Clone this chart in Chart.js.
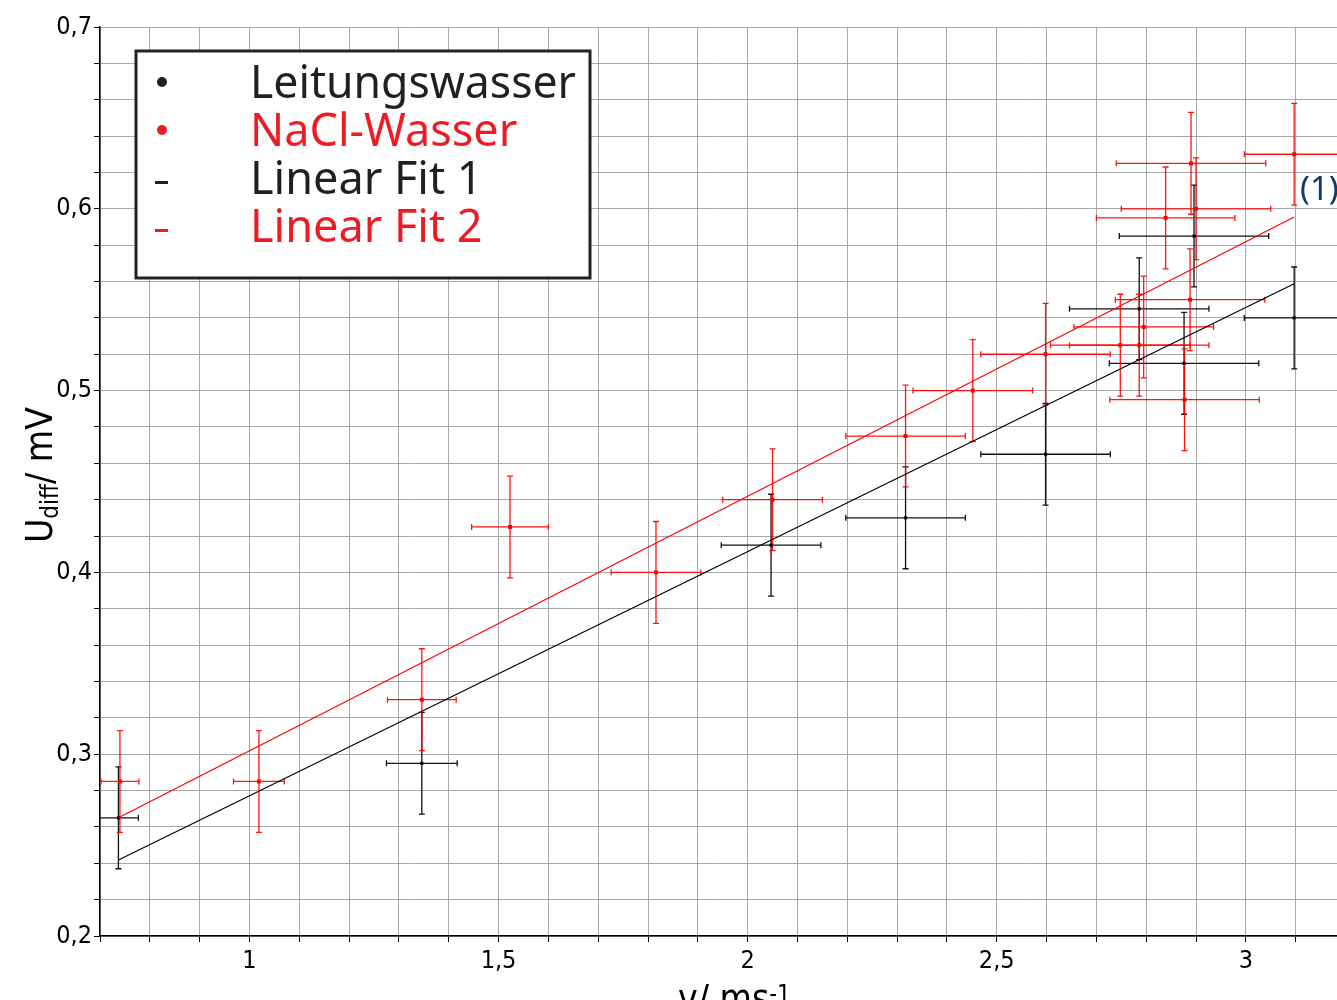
<!DOCTYPE html>
<html>
<head>
<meta charset="utf-8">
<script src="https://cdn.jsdelivr.net/npm/chart.js@4.4.0/dist/chart.umd.min.js"></script>
<style>
html, body { margin: 0; padding: 0; background: #fff; overflow: hidden; }
canvas { display: block; }
</style>
</head>
<body>
<canvas id="myChart" width="1341" height="1000"></canvas>
<script>
// Leitungswasser (schwarz)
const waterX    = [0.737, 1.346, 2.047, 2.317, 2.598, 2.786, 2.876, 2.896, 3.097];
const waterY    = [0.265, 0.295, 0.415, 0.430, 0.465, 0.545, 0.515, 0.585, 0.540];
const waterXErr = [0.040, 0.071, 0.100, 0.120, 0.130, 0.140, 0.150, 0.150, 0.100];
const waterYErr = [0.028, 0.028, 0.028, 0.028, 0.028, 0.028, 0.028, 0.028, 0.028];

// NaCl-Wasser (rot)
const saltX    = [0.740, 1.019, 1.346, 1.523, 1.816, 2.050, 2.317, 2.452, 2.598, 2.748, 2.786, 2.795, 2.839, 2.877, 2.888, 2.890, 2.900, 3.097];
const saltY    = [0.285, 0.285, 0.330, 0.425, 0.400, 0.440, 0.475, 0.500, 0.520, 0.525, 0.525, 0.535, 0.595, 0.495, 0.550, 0.625, 0.600, 0.630];
const saltXErr = [0.038, 0.051, 0.069, 0.077, 0.090, 0.100, 0.120, 0.120, 0.130, 0.140, 0.140, 0.140, 0.139, 0.150, 0.150, 0.150, 0.150, 0.100];
const saltYErr = [0.028, 0.028, 0.028, 0.028, 0.028, 0.028, 0.028, 0.028, 0.028, 0.028, 0.028, 0.028, 0.028, 0.028, 0.028, 0.028, 0.028, 0.028];

// Ausgleichsgeraden (Endpunkte)
const fit1X = [0.737, 3.097];
const fit1Y = [0.2418, 0.5588];
const fit2X = [0.737, 3.097];
const fit2Y = [0.2650, 0.5955];

// Achsenbeschriftung
const xTickValues = [1, 1.5, 2, 2.5, 3];
const xTickLabels = ['1', '1,5', '2', '2,5', '3'];
const yTickValues = [0.2, 0.3, 0.4, 0.5, 0.6, 0.7];
const yTickLabels = ['0,2', '0,3', '0,4', '0,5', '0,6', '0,7'];

const legendNames = ['Leitungswasser', 'NaCl-Wasser', 'Linear Fit 1', 'Linear Fit 2'];

const RED = '#ff0000';
const BLACK = '#111111';
const tickFont = '"DejaVu Sans Condensed", "DejaVu Sans", sans-serif';
const legendFont = '"Noto Sans", "Open Sans", sans-serif';

function toPoints(xs, ys) {
    return xs.map((x, i) => ({ x: x, y: ys[i] }));
}

// Gitterlinien: x alle 0,1 , y alle 0,02
const xGrid = [];
for (let i = 7; i <= 31; i++) xGrid.push(i / 10);
const yGrid = [];
for (let i = 10; i <= 35; i++) yGrid.push(i / 50);

function findLabel(values, labels, v) {
    for (let i = 0; i < values.length; i++) {
        if (Math.abs(values[i] - v) < 1e-6) return labels[i];
    }
    return '';
}

// Fehlerbalken zeichnen
const errorBars = {
    id: 'errorBars',
    beforeDatasetsDraw(chart) {
        const ctx = chart.ctx;
        const xs = chart.scales.x;
        const ys = chart.scales.y;
        const area = chart.chartArea;
        ctx.save();
        ctx.beginPath();
        ctx.rect(area.left, area.top, area.right - area.left, area.bottom - area.top);
        ctx.clip();
        const groups = [
            [waterX, waterY, waterXErr, waterYErr, BLACK],
            [saltX, saltY, saltXErr, saltYErr, 'rgba(255,0,0,0.92)']
        ];
        groups.forEach(function(g) {
            const [gx, gy, ex, ey, col] = g;
            ctx.strokeStyle = col;
            ctx.lineWidth = 1.3;
            for (let i = 0; i < gx.length; i++) {
                const px = xs.getPixelForValue(gx[i]);
                const py = ys.getPixelForValue(gy[i]);
                const x1 = xs.getPixelForValue(gx[i] - ex[i]);
                const x2 = xs.getPixelForValue(gx[i] + ex[i]);
                const y1 = ys.getPixelForValue(gy[i] + ey[i]);
                const y2 = ys.getPixelForValue(gy[i] - ey[i]);
                ctx.beginPath();
                ctx.moveTo(x1, py); ctx.lineTo(x2, py);
                ctx.moveTo(x1, py - 3); ctx.lineTo(x1, py + 3);
                ctx.moveTo(x2, py - 3); ctx.lineTo(x2, py + 3);
                ctx.moveTo(px, y1); ctx.lineTo(px, y2);
                ctx.moveTo(px - 3, y1); ctx.lineTo(px + 3, y1);
                ctx.moveTo(px - 3, y2); ctx.lineTo(px + 3, y2);
                ctx.stroke();
            }
        });
        ctx.restore();
    }
};

// Achsentitel, Legende und Markierung
const decorations = {
    id: 'decorations',
    afterDraw(chart) {
        const ctx = chart.ctx;
        ctx.save();

        // y-Achsentitel
        ctx.save();
        ctx.translate(52, 543);
        ctx.rotate(-Math.PI / 2);
        ctx.fillStyle = '#000';
        ctx.textBaseline = 'alphabetic';
        ctx.textAlign = 'left';
        ctx.font = '37px ' + tickFont;
        ctx.fillText('U', 0, 0);
        let w = ctx.measureText('U').width;
        ctx.font = '24px ' + tickFont;
        ctx.fillText('diff', w, 6);
        w += ctx.measureText('diff').width;
        ctx.font = '37px ' + tickFont;
        ctx.fillText('/ mV', w, 0);
        ctx.restore();

        // x-Achsentitel
        ctx.fillStyle = '#000';
        ctx.textAlign = 'left';
        ctx.textBaseline = 'alphabetic';
        ctx.font = '37px ' + tickFont;
        ctx.fillText('v/ ms', 678, 1011);
        const vw = ctx.measureText('v/ ms').width;
        ctx.font = '24px ' + tickFont;
        ctx.fillText('-1', 678 + vw, 1002);

        // Legende
        ctx.fillStyle = '#fff';
        ctx.fillRect(136, 51, 454, 227);
        ctx.strokeStyle = '#222';
        ctx.lineWidth = 3;
        ctx.strokeRect(136, 51, 454, 227);

        const legendColors = ['#231f20', '#ed1c24', '#231f20', '#ed1c24'];
        ctx.font = '45px ' + legendFont;
        for (let i = 0; i < legendNames.length; i++) {
            const base = 98 + i * 48;
            ctx.fillStyle = legendColors[i];
            ctx.fillText(legendNames[i], 250, base, 326);
            if (i < 2) {
                ctx.beginPath();
                ctx.arc(162, base - 16, 5, 0, Math.PI * 2);
                ctx.fill();
            } else {
                ctx.fillRect(155, base - 13, 13, 3);
            }
        }

        // Markierung (1)
        ctx.fillStyle = '#0e3a6b';
        ctx.font = '33px ' + legendFont;
        ctx.fillText('(1)', 1300, 200);

        ctx.restore();
    }
};

const ctx = document.getElementById('myChart');
const config = {
    type: 'scatter',
    data: {
        datasets: [
            {
                label: legendNames[2],
                data: toPoints(fit1X, fit1Y),
                showLine: true,
                borderColor: '#000',
                borderWidth: 1.2,
                pointRadius: 0
            },
            {
                label: legendNames[3],
                data: toPoints(fit2X, fit2Y),
                showLine: true,
                borderColor: RED,
                borderWidth: 1.2,
                pointRadius: 0
            },
            {
                label: legendNames[0],
                data: toPoints(waterX, waterY),
                pointStyle: 'rect',
                pointRadius: 2.2,
                backgroundColor: '#000',
                borderWidth: 0
            },
            {
                label: legendNames[1],
                data: toPoints(saltX, saltY),
                pointStyle: 'rect',
                pointRadius: 2.8,
                backgroundColor: RED,
                borderWidth: 0
            }
        ]
    },
    options: {
        responsive: false,
        animation: false,
        layout: { padding: { top: 27, right: 0, left: 0, bottom: 0 } },
        plugins: {
            legend: { display: false },
            tooltip: { enabled: false }
        },
        scales: {
            x: {
                type: 'linear',
                min: 0.7,
                max: 3.183,
                afterBuildTicks: function(scale) {
                    scale.ticks = xGrid.map(v => ({ value: v }));
                },
                afterFit: function(scale) {
                    scale.height = 64;
                    scale.paddingLeft = 0;
                    scale.paddingRight = 0;
                },
                grid: { color: '#a8a8a8', lineWidth: 1, tickColor: '#000', tickLength: 6 },
                border: { color: '#000', width: 1.5 },
                ticks: {
                    autoSkip: false,
                    maxRotation: 0,
                    padding: 4,
                    color: '#000',
                    font: { family: tickFont, size: 25 },
                    callback: function(value) { return findLabel(xTickValues, xTickLabels, value); }
                }
            },
            y: {
                type: 'linear',
                min: 0.2,
                max: 0.7,
                afterBuildTicks: function(scale) {
                    scale.ticks = yGrid.map(v => ({ value: v }));
                },
                afterFit: function(scale) {
                    scale.width = 100;
                    scale.paddingTop = 0;
                    scale.paddingBottom = 0;
                },
                grid: { color: '#a8a8a8', lineWidth: 1, tickColor: '#000', tickLength: 6 },
                border: { color: '#000', width: 1.5 },
                ticks: {
                    autoSkip: false,
                    padding: 2,
                    color: '#000',
                    font: { family: tickFont, size: 25 },
                    callback: function(value) { return findLabel(yTickValues, yTickLabels, value); }
                }
            }
        }
    },
    plugins: [errorBars, decorations]
};

const myChart = new Chart(ctx, config);
</script>
</body>
</html>
